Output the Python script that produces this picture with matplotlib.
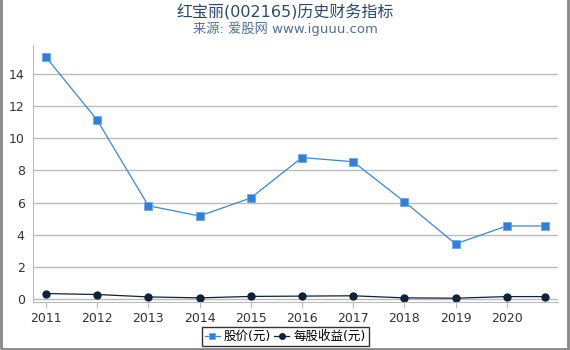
import matplotlib
matplotlib.use('Agg')
import matplotlib.pyplot as plt
from matplotlib.patches import Rectangle

plt.rcParams['font.family'] = ['DejaVu Sans', 'Noto Sans CJK SC']

years = [2011, 2012, 2013, 2014, 2015, 2016, 2017, 2018, 2019, 2020, 2020.75]
year_ticks = [2011, 2012, 2013, 2014, 2015, 2016, 2017, 2018, 2019, 2020]
price = [15.06, 11.14, 5.80, 5.16, 6.28, 8.80, 8.54, 6.05, 3.42, 4.54, 4.54]
eps = [0.33, 0.27, 0.12, 0.06, 0.15, 0.17, 0.19, 0.06, 0.04, 0.14, 0.14]

fig = plt.figure(figsize=(5.7, 3.5), dpi=100)
ax = fig.add_axes([0.058, 0.137, 0.921, 0.734])

ax.plot(years, price, color='#3a86d8', linewidth=0.9, marker='s', markersize=6,
        markerfacecolor='#2f7fdb', markeredgecolor='#6aa8ee', markeredgewidth=0.6,
        label='股价(元)')
ax.plot(years, eps, color='#0f2238', linewidth=0.9, marker='o', markersize=5,
        markerfacecolor='#0f2238', markeredgecolor='#0f2238', label='每股收益(元)')

ax.set_xlim(2010.75, 2021.0)
ax.set_ylim(-0.2, 15.8)
ax.set_xticks(year_ticks)
ax.set_yticks(range(0, 15, 2))
ax.yaxis.grid(True, color='#bbbbbb', linewidth=1)
ax.set_axisbelow(True)
for s in ['top', 'right']:
    ax.spines[s].set_visible(False)
for s in ['left', 'bottom']:
    ax.spines[s].set_color('#bbbbbb')
ax.tick_params(axis='y', length=0, labelsize=9, colors='#333333', pad=6)
ax.tick_params(axis='x', length=4, color='#bbbbbb', labelsize=9, labelcolor='#333333')

fig.text(0.5, 0.965, '红宝丽(002165)历史财务指标', ha='center', va='center',
         fontsize=11.5, color='#2b4a6b')
fig.text(0.5, 0.918, '来源: 爱股网 www.iguuu.com', ha='center', va='center',
         fontsize=9.5, color='#4f6f99')

leg = ax.legend(loc='center', bbox_to_anchor=(0.5, 0.038), bbox_transform=fig.transFigure,
                ncol=2, frameon=True, fancybox=False, fontsize=9, handlelength=1.2,
                handletextpad=0.3, columnspacing=0.3, borderpad=0.25, markerscale=0.8)
leg.get_frame().set_edgecolor('black')
leg.get_frame().set_linewidth(1)

fig.patches.append(Rectangle((0.001, 0.004), 0.996, 1.2, transform=fig.transFigure,
                             fill=False, edgecolor='#888888', linewidth=2))

fig.savefig('out.png', dpi=100)
